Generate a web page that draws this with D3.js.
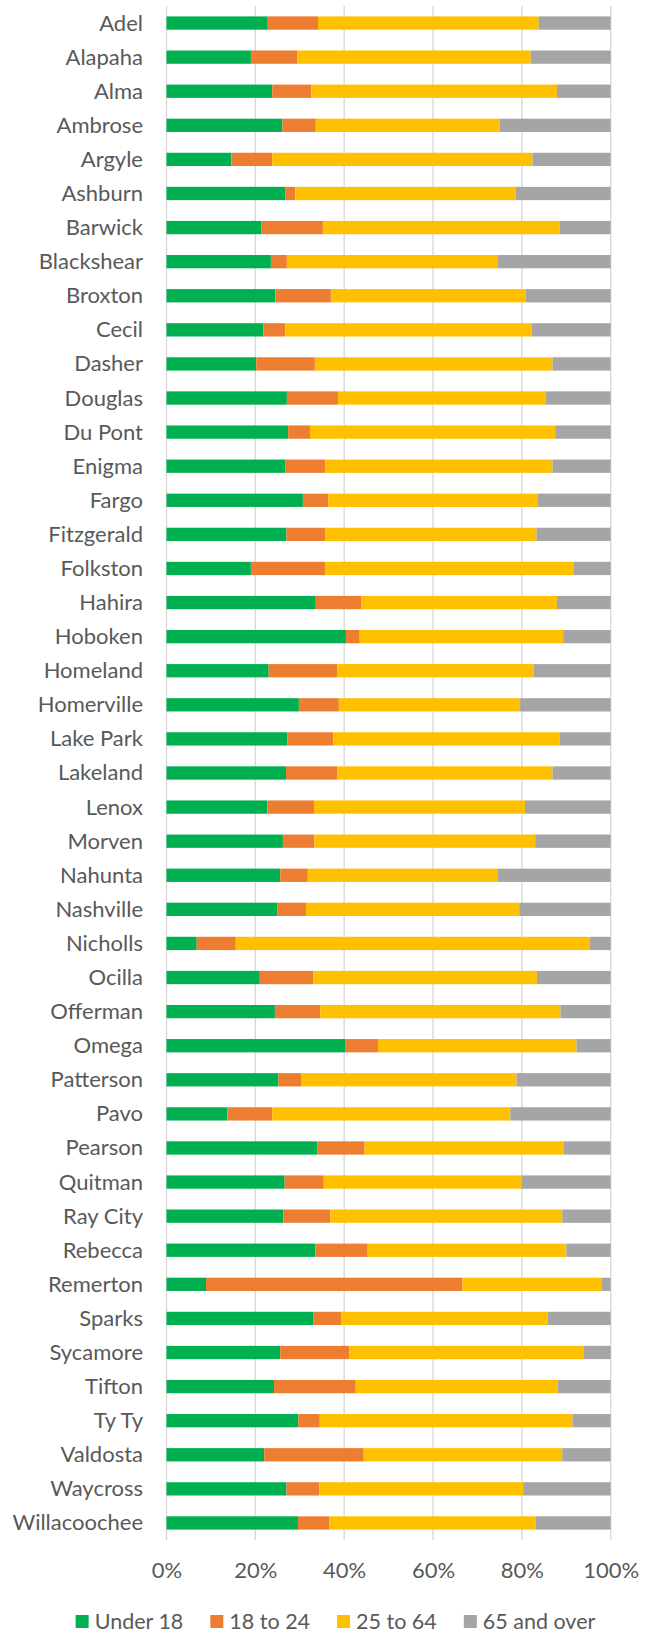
<!DOCTYPE html>
<html>
<head>
<meta charset="utf-8">
<script src="https://cdn.jsdelivr.net/npm/d3@7"></script>
<style>
  html, body { margin: 0; padding: 0; background: #fff; }
  svg { display: block; }
  text { font-family: Lato, "Open Sans", sans-serif; fill: #595959; }
</style>
</head>
<body>
<svg id="chart" width="647" height="1634"></svg>
<script>
const categories = ["Adel","Alapaha","Alma","Ambrose","Argyle","Ashburn","Barwick","Blackshear","Broxton","Cecil","Dasher","Douglas","Du Pont","Enigma","Fargo","Fitzgerald","Folkston","Hahira","Hoboken","Homeland","Homerville","Lake Park","Lakeland","Lenox","Morven","Nahunta","Nashville","Nicholls","Ocilla","Offerman","Omega","Patterson","Pavo","Pearson","Quitman","Ray City","Rebecca","Remerton","Sparks","Sycamore","Tifton","Ty Ty","Valdosta","Waycross","Willacoochee"];

const seriesNames = ["Under 18","18 to 24","25 to 64","65 and over"];

const under18 = [22.8,19.0,23.8,26.1,14.6,26.7,21.3,23.5,24.5,21.8,20.2,27.1,27.4,26.7,30.7,27.0,19.0,33.6,40.4,23.0,29.8,27.2,26.9,22.7,26.2,25.6,24.9,6.8,21.0,24.4,40.2,25.2,13.7,33.9,26.6,26.3,33.5,8.9,33.0,25.6,24.2,29.7,22.0,27.0,29.6];
const age18to24 = [11.3,10.4,8.8,7.5,9.2,2.3,13.9,3.6,12.5,4.9,13.2,11.5,4.9,9.1,5.7,8.7,16.8,10.2,3.1,15.4,9.0,10.4,11.5,10.5,7.1,6.2,6.5,8.8,12.0,10.2,7.4,5.2,10.1,10.7,8.8,10.6,11.8,57.7,6.3,15.6,18.4,4.8,22.4,7.4,7.0];
const age25to64 = [49.7,52.6,55.3,41.4,58.6,49.6,53.3,47.4,43.9,55.5,53.5,46.8,55.2,51.1,47.1,47.6,55.8,44.1,45.8,44.3,40.8,50.9,48.5,47.5,49.7,42.7,48.0,79.7,50.4,54.1,44.7,48.4,53.6,44.9,44.5,52.2,44.7,31.3,46.5,52.8,45.5,56.9,44.7,45.9,46.5];
const age65plus = [16.2,18.0,12.1,25.0,17.6,21.4,11.5,25.5,19.1,17.8,13.1,14.6,12.5,13.1,16.5,16.7,8.4,12.1,10.7,17.3,20.4,11.5,13.1,19.3,17.0,25.5,20.6,4.7,16.6,11.3,7.7,21.2,22.6,10.5,20.1,10.9,10.0,2.1,14.2,6.0,11.9,8.6,10.9,19.7,16.9];

const tickValues = [0, 0.2, 0.4, 0.6, 0.8, 1.0];
const colors = ["#00b050","#ed7d31","#ffc000","#a5a5a5"];

const seriesArrays = [under18, age18to24, age25to64, age65plus];
const rows = categories.map((c, i) => {
  const o = { name: c };
  seriesNames.forEach((s, k) => { o[s] = seriesArrays[k][i]; });
  return o;
});

const stacked = d3.stack().keys(seriesNames).offset(d3.stackOffsetExpand)(rows);

const svg = d3.select("#chart");
const plotLeft = 166.5, plotRight = 610.7, plotTop = 6, plotBottom = 1540;
const fontSize = 22;

const x = d3.scaleLinear().domain([0, 1]).range([plotLeft, plotRight]);
const y = d3.scaleBand().domain(categories).range([plotTop, plotBottom]).paddingInner(0.61).paddingOuter(0.305);

// gridlines
svg.append("g").selectAll("line").data(tickValues).join("line")
  .attr("x1", d => x(d)).attr("x2", d => x(d))
  .attr("y1", plotTop).attr("y2", plotBottom)
  .attr("stroke", "#d9d9d9").attr("stroke-width", 1.4);

// bars
svg.append("g").selectAll("g").data(stacked).join("g")
  .attr("fill", (d, i) => colors[i])
  .selectAll("rect").data(d => d).join("rect")
  .attr("x", d => x(d[0]))
  .attr("width", d => x(d[1]) - x(d[0]))
  .attr("y", d => y(d.data.name))
  .attr("height", y.bandwidth());

// category axis labels
const yAxis = d3.axisLeft(y).tickSize(0).tickPadding(0);
const yg = svg.append("g").attr("transform", `translate(143,0)`).call(yAxis);
yg.select(".domain").remove();
yg.selectAll("text")
  .attr("font-size", fontSize)
  .attr("font-family", "Lato, sans-serif")
  .attr("fill", "#595959")
  .attr("dy", "0.34em");

// x axis labels
const xAxis = d3.axisBottom(x).tickValues(tickValues).tickFormat(d3.format(".0%")).tickSize(0).tickPadding(0);
const xg = svg.append("g").attr("transform", `translate(0,1578)`).call(xAxis);
xg.select(".domain").remove();
xg.selectAll("text")
  .attr("font-size", fontSize)
  .attr("font-family", "Lato, sans-serif")
  .attr("fill", "#595959")
  .attr("y", 0).attr("dy", 0);

// legend
const legendFont = 21.5;
const legend = svg.append("g");
let cx = 0;
seriesNames.forEach((s, i) => {
  const g = legend.append("g");
  g.append("rect").attr("x", 0).attr("y", -13.5).attr("width", 13).attr("height", 13).attr("fill", colors[i]);
  const t = g.append("text").attr("x", 19).attr("y", 0)
    .attr("font-size", legendFont).attr("font-family", "Lato, sans-serif").attr("fill", "#595959").text(s);
  const w = t.node().getComputedTextLength();
  g.attr("transform", `translate(${cx},0)`);
  cx += 19 + w + 27;
});
const totalW = cx - 27;
legend.attr("transform", `translate(${335.5 - totalW / 2},1628.5)`);
</script>
</body>
</html>
